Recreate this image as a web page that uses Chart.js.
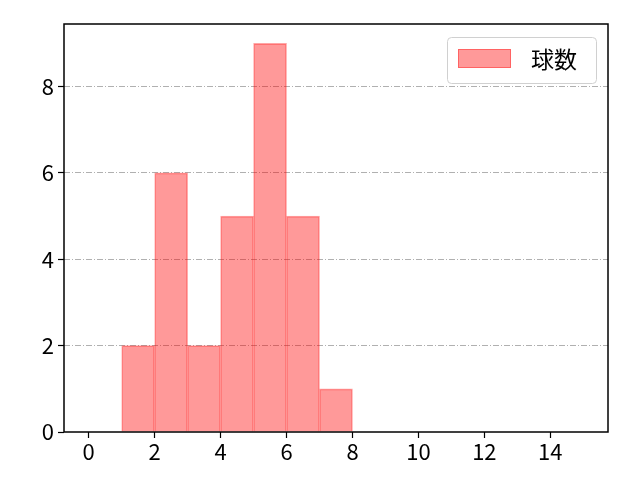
<!DOCTYPE html>
<html>
<head>
<meta charset="utf-8">
<script src="https://cdn.jsdelivr.net/npm/chart.js@4"></script>
<style>
  html, body { margin: 0; padding: 0; background: #fff; }
  #wrap { width: 640px; height: 480px; }
</style>
</head>
<body>
<div id="wrap"><canvas id="chart" width="640" height="480"></canvas></div>
<script>
const binCenters = [1.5, 2.5, 3.5, 4.5, 5.5, 6.5, 7.5];
const counts = [2, 6, 2, 5, 9, 5, 1];
const xTicks = [0, 2, 4, 6, 8, 10, 12, 14];
const yTicks = [0, 2, 4, 6, 8];
const seriesLabel = '球数';

const FONT = "'Noto Sans CJK JP', 'DejaVu Sans', sans-serif";

// frame around the plot area plus a matplotlib style legend box
const framePlugin = {
  id: 'frame',
  afterDraw(chart) {
    const { ctx, chartArea: a } = chart;
    ctx.save();
    ctx.strokeStyle = '#000';
    ctx.lineWidth = 1.5;
    ctx.strokeRect(a.left, a.top, a.right - a.left, a.bottom - a.top);

    const ds = chart.data.datasets[0];
    const bx = 447, by = 37, bw = 149, bh = 46;
    ctx.fillStyle = 'rgba(255,255,255,0.8)';
    ctx.strokeStyle = '#d0d0d0';
    ctx.lineWidth = 1;
    ctx.beginPath();
    ctx.roundRect(bx + 0.5, by + 0.5, bw, bh, 4);
    ctx.fill();
    ctx.stroke();
    ctx.fillStyle = ds.backgroundColor;
    ctx.fillRect(458, 49, 53, 19);
    ctx.strokeStyle = ds.borderColor;
    ctx.strokeRect(458.5, 49.5, 52, 18);
    ctx.fillStyle = '#000';
    ctx.font = '23px ' + FONT;
    ctx.textBaseline = 'middle';
    ctx.fillText(ds.label, 531, 59);
    ctx.restore();
  }
};

new Chart(document.getElementById('chart'), {
  type: 'bar',
  data: {
    datasets: [{
      label: seriesLabel,
      data: binCenters.map((x, i) => ({ x, y: counts[i] })),
      backgroundColor: 'rgba(255,0,0,0.4)',
      borderColor: 'rgba(255,0,0,0.35)',
      borderWidth: 1,
      barPercentage: 1,
      categoryPercentage: 1
    }]
  },
  options: {
    responsive: false,
    animation: false,
    devicePixelRatio: 1,
    layout: { padding: { top: 24, right: 32, left: 0, bottom: 0 } },
    plugins: { legend: { display: false }, tooltip: { enabled: false } },
    scales: {
      x: {
        type: 'linear',
        offset: false,
        min: -0.75,
        max: 15.75,
        afterBuildTicks: s => { s.ticks = xTicks.map(v => ({ value: v })); },
        afterFit: s => { s.height = 48; },
        grid: { offset: false, drawOnChartArea: false, drawTicks: true, tickLength: 6, color: '#000', tickWidth: 1.2 },
        border: { display: false },
        ticks: { color: '#000', font: { family: FONT, size: 22 }, padding: 0, maxRotation: 0 }
      },
      y: {
        min: 0,
        max: 9.45,
        afterBuildTicks: s => { s.ticks = yTicks.map(v => ({ value: v })); },
        afterFit: s => { s.width = 64; },
        grid: {
          color: c => c.tick && c.tick.value === 0 ? 'rgba(0,0,0,0)' : '#b0b0b0',
          lineWidth: 1,
          drawTicks: true,
          tickLength: 6,
          tickColor: '#000',
          tickWidth: 1.2,
          tickBorderDash: [],
          borderDash: [6, 2, 1, 2]
        },
        border: { display: false, dash: [6, 2, 1, 2] },
        ticks: { color: '#000', font: { family: FONT, size: 22 }, padding: 4 }
      }
    }
  },
  plugins: [framePlugin]
});
</script>
</body>
</html>
